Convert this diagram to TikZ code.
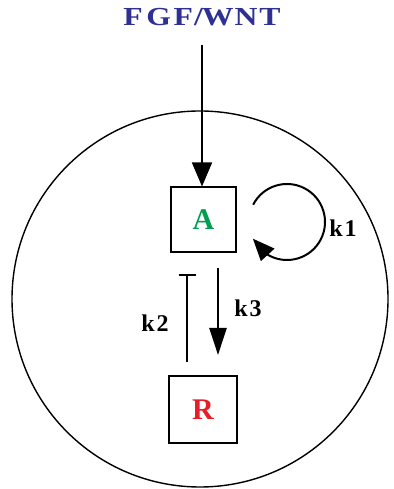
\documentclass[tikz,border=0pt]{standalone}
\usepackage{fontspec}
\setmainfont{Liberation Serif}
\usepackage{graphicx}
\usetikzlibrary{arrows.meta,bending}
\definecolor{fgfblue}{RGB}{46,49,146}
\definecolor{agreen}{RGB}{0,158,80}
\definecolor{rred}{RGB}{230,30,40}
\tikzset{
  genebox/.style={draw=black, line width=2pt, fill=white, inner sep=0pt, minimum width=65pt, minimum height=65pt, font=\fontsize{30}{30}\selectfont\bfseries},
  klabel/.style={inner sep=0pt, font=\fontsize{24}{24}\selectfont\bfseries},
  conn/.style={line width=2pt, draw=black},
}
\begin{document}
\begin{tikzpicture}[x=1pt,y=1pt]
\useasboundingbox (0,0) rectangle (393,489);
% cell
\draw[line width=1.4pt] (200,190) circle[radius=188];
% nodes
\node[inner sep=0pt, text height=17pt, text depth=0pt, text=fgfblue, font=\fontsize{26}{26}\selectfont\bfseries] (fgf) at (202,472)
  {\scalebox{1.22}[1]{F\kern3pt G\kern2pt F\kern1pt/\kern-1pt W\kern1pt N\kern1.5pt T}};
\node[genebox, text=agreen] (A) at (203.5,269) {A};
\node[genebox, text=rred, minimum width=68pt, minimum height=67pt] (R) at (203,79.5) {R};
% labels
\node[klabel] (k1) at (343,261) {k\kern2pt 1};
\node[klabel] (k2) at (155,166) {k\kern2pt 2};
\node[klabel] (k3) at (248,181) {k\kern2pt 3};
% connectors
\draw[conn, line width=1.6pt, -{Triangle[width=20pt,length=24pt]}, shorten <=19pt]
  (fgf.south) -- (fgf.south |- A.north);
\coordinate (loopc) at ([shift={(83.5,-2)}]A.center);
\draw[conn, -{Triangle[width=18pt,length=22pt]}]
  ([shift={(153:38)}]loopc) arc[start angle=153, end angle=-154, radius=38];
\draw[conn, -{Bar[width=17pt]}, shorten <=13pt, shorten >=21pt]
  ([xshift=-16pt]R.north) -- ([xshift=-16pt]R.north |- A.south);
\draw[conn, line width=2.4pt, -{Triangle[width=17pt,length=27pt]}, shorten <=15pt, shorten >=20pt]
  ([xshift=14.5pt]A.south) -- ([xshift=14.5pt]A.south |- R.north);
\end{tikzpicture}
\end{document}
